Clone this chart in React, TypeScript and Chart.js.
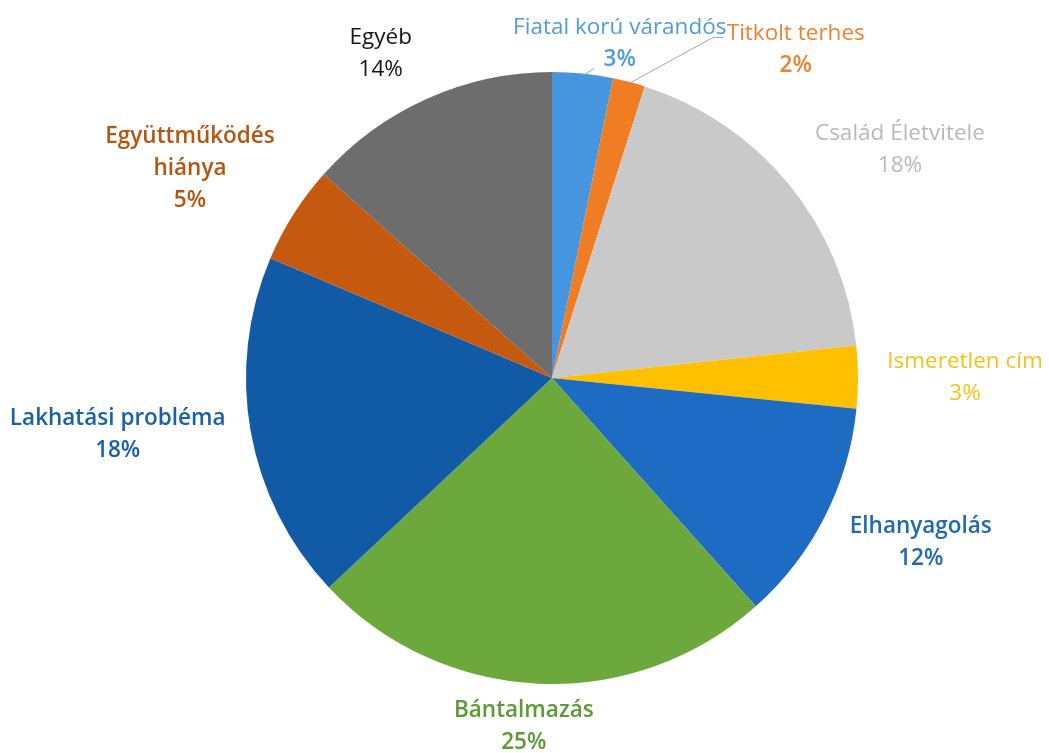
import React, { useEffect, useRef } from "react";
import { Chart, registerables } from "chart.js";

Chart.register(...registerables);

const categories = [
  "Fiatal korú várandós",
  "Titkolt terhes",
  "Család Életvitele",
  "Ismeretlen cím",
  "Elhanyagolás",
  "Bántalmazás",
  "Lakhatási probléma",
  "Együttműködés hiánya",
  "Egyéb",
];
const values = [3.2, 1.7, 18.4, 3.3, 11.8, 24.6, 18.4, 5.2, 13.4];
const percentLabels = ["3%", "2%", "18%", "3%", "12%", "25%", "18%", "5%", "14%"];
const sliceColors = ["#4595DF", "#F07D23", "#C9C9C9", "#FFC000", "#1D6BC2", "#6CA83C", "#115AA6", "#C4590F", "#6D6D6D"];
const textColors = ["#4E9BDD", "#EF8232", "#B9B9B9", "#F5C11A", "#1F68B5", "#5B9A37", "#1761AA", "#B4560F", "#151515"];
// label layout (style): name lines, angle shift (deg), extra radial distance (px), weight
const labelLines = [
  ["Fiatal korú várandós"],
  ["Titkolt terhes"],
  ["Család Életvitele"],
  ["Ismeretlen cím"],
  ["Elhanyagolás"],
  ["Bántalmazás"],
  ["Lakhatási probléma"],
  ["Együttműködés", "hiánya"],
  ["Egyéb"],
];
const angleShift = [5.7, 22, 6, 0.1, -2.9, 2.1, 2.6, -2.4, -3.7];
const extraDist = [35, 103, 110, 107, 98, 44, 132, 112, 61];
const nameWeight = [400, 400, 400, 500, 600, 600, 600, 600, 400];
const pctWeight = [600, 600, 400, 500, 600, 600, 600, 600, 400];

const labelPlugin = {
  id: "outerLabels",
  afterDraw(chart: any) {
    const ctx = chart.ctx;
    const meta = chart.getDatasetMeta(0);
    const lineH = 32;
    ctx.save();
    ctx.textAlign = "center";
    ctx.textBaseline = "middle";
    meta.data.forEach((arc: any, i: number) => {
      const { x, y, startAngle, endAngle, outerRadius } = arc.getProps(
        ["x", "y", "startAngle", "endAngle", "outerRadius"],
        true
      );
      const mid = (startAngle + endAngle) / 2 + (angleShift[i] * Math.PI) / 180;
      const d = outerRadius + extraDist[i];
      const cx = x + Math.cos(mid) * d;
      const cy = y + Math.sin(mid) * d;
      const lines = [...labelLines[i], percentLabels[i]];
      const top = cy - ((lines.length - 1) * lineH) / 2;
      ctx.fillStyle = textColors[i];
      lines.forEach((t, k) => {
        const w = k === lines.length - 1 ? pctWeight[i] : nameWeight[i];
        ctx.font = `${w} 22.5px "Open Sans", sans-serif`;
        ctx.fillText(t, cx, top + k * lineH);
      });
      // leader lines for the two thin slices at the top
      if (i === 0 || i === 1) {
        const am = (startAngle + endAngle) / 2;
        const ex = x + Math.cos(am) * (outerRadius - 2);
        const ey = y + Math.sin(am) * (outerRadius - 2);
        ctx.strokeStyle = "#A6A6A6";
        ctx.lineWidth = 1;
        ctx.beginPath();
        ctx.moveTo(ex, ey);
        if (i === 0) {
          ctx.lineTo(ex + 12, ey - 7);
        } else {
          ctx.lineTo(cx - 83, cy - 12);
          ctx.lineTo(cx - 72, cy - 12);
        }
        ctx.stroke();
      }
    });
    ctx.restore();
  },
};

export default function App() {
  const ref = useRef<HTMLCanvasElement | null>(null);
  useEffect(() => {
    document.body.style.margin = "0";
    const chart = new Chart(ref.current!, {
      type: "pie",
      data: {
        labels: categories,
        datasets: [
          {
            data: values,
            backgroundColor: sliceColors,
            borderWidth: 0,
          },
        ],
      },
      options: {
        animation: false,
        responsive: false,
        layout: { padding: { left: 246, right: 191, top: 72, bottom: 69 } },
        plugins: {
          legend: { display: false },
          tooltip: { enabled: false },
        },
      },
      plugins: [labelPlugin],
    });
    return () => chart.destroy();
  }, []);
  return (
    <div style={{ width: 1049, height: 753, background: "#fff" }}>
      <canvas ref={ref} width={1049} height={753} style={{ display: "block" }} />
    </div>
  );
}
